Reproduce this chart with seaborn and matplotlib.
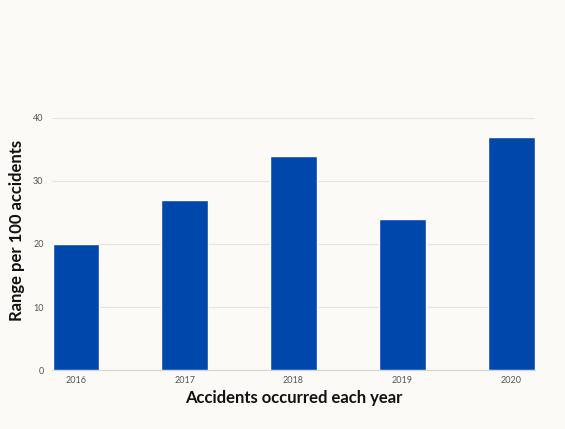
import matplotlib
matplotlib.use("Agg")
import matplotlib.pyplot as plt
import seaborn as sns
import pandas as pd

years = ["2016", "2017", "2018", "2019", "2020"]
rates = [20, 27, 34, 24, 37]

bg = "#fcfaf6"
sns.set_style("white")
plt.rcParams["font.family"] = ["Lato", "DejaVu Sans"]

df = pd.DataFrame({"year": years, "rate": rates})

fig = plt.figure(figsize=(5.65, 4.29), dpi=100, facecolor=bg)
ax = fig.add_axes([0.092, 0.1375, 0.855, 0.5875], facecolor=bg)
sns.barplot(data=df, x="year", y="rate", color="#0047ab", saturation=1,
            width=0.43, ax=ax, zorder=3)
ax.set_xlim(-0.22, 4.22)
ax.set_ylim(0, 40)
ax.set_yticks([0, 10, 20, 30, 40])
ax.yaxis.grid(True, color="#e6e4e0", linewidth=0.8, zorder=0)
ax.set_axisbelow(True)
for s in ["top", "right", "left"]:
    ax.spines[s].set_visible(False)
ax.spines["bottom"].set_color("#d6d4d0")
ax.spines["bottom"].set_linewidth(0.8)
ax.tick_params(axis="both", length=0, labelsize=6.5, labelcolor="#555555")
ax.tick_params(axis="y", pad=6)
ax.tick_params(axis="x", pad=4)
ax.set_xlabel("Accidents occurred each year", fontsize=12, fontweight="bold",
              color="#111111", labelpad=4)
ax.set_ylabel("Range per 100 accidents", fontsize=12, fontweight="bold",
              color="#111111")
ax.yaxis.set_label_coords(-0.055, 0.555)
fig.savefig("out.png", dpi=100, facecolor=bg)
